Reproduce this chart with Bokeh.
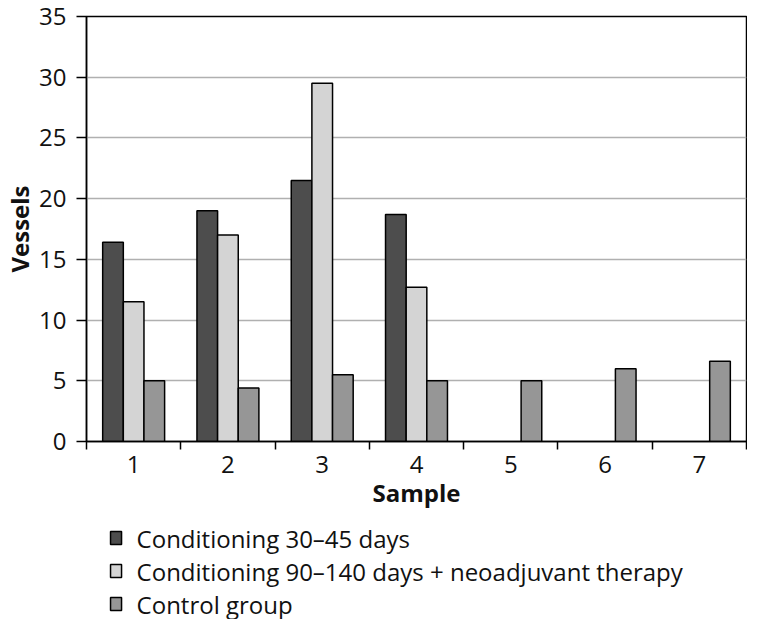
from bokeh.plotting import figure
from bokeh.layouts import column
from bokeh.models import ColumnDataSource, FixedTicker, Range1d
from bokeh.core.properties import value
from bokeh.transform import dodge
from bokeh.embed import file_html
from bokeh.resources import INLINE

# ---- data ----
samples = [1, 2, 3, 4, 5, 6, 7]
sample_labels = ["1", "2", "3", "4", "5", "6", "7"]
conditioning_30_45 = [16.4, 19.0, 21.5, 18.7, None, None, None]
conditioning_90_140 = [11.5, 17.0, 29.5, 12.7, None, None, None]
control_group = [5.0, 4.4, 5.5, 5.0, 5.0, 6.0, 6.6]
series_names = [
    "Conditioning 30\u201345 days",
    "Conditioning 90\u2013140 days + neoadjuvant therapy",
    "Control group",
]
y_ticks = [0, 5, 10, 15, 20, 25, 30, 35]

# ---- styles ----
colors = ["#4d4d4d", "#d4d4d4", "#969696"]
offsets = [-0.219, 0.0, 0.219]
bar_w = 0.219
FONT = "Open Sans"
W = 747
H_CHART = 521
H_LEGEND = 98

p = figure(width=W, height=H_CHART, output_backend="svg", toolbar_location=None,
           x_range=Range1d(0.5, 7.5), y_range=Range1d(0, 35),
           min_border_left=0, min_border_right=1, min_border_top=16,
           min_border_bottom=80)
p.background_fill_color = "white"
p.border_fill_color = "white"
p.outline_line_color = "black"
p.outline_line_width = 1.5

for name, vals, col, off in zip(series_names,
                                [conditioning_30_45, conditioning_90_140, control_group],
                                colors, offsets):
    xs = [s for s, v in zip(samples, vals) if v is not None]
    ys = [v for v in vals if v is not None]
    src = ColumnDataSource(dict(x=xs, top=ys))
    p.vbar(x=dodge("x", off), top="top", bottom=0, width=bar_w, source=src,
           fill_color=col, line_color="black", line_width=1.5)

# grid
p.xgrid.visible = False
p.ygrid.grid_line_color = "#b0b0b0"
p.ygrid.grid_line_width = 1.5
p.ygrid.ticker = FixedTicker(ticks=y_ticks)

# x axis
p.xaxis.ticker = FixedTicker(ticks=samples, minor_ticks=[s - 0.5 for s in samples] + [samples[-1] + 0.5])
p.xaxis.major_label_overrides = {s: l for s, l in zip(samples, sample_labels)}
p.xaxis.major_tick_out = 0
p.xaxis.major_tick_in = 0
p.xaxis.minor_tick_out = 8
p.xaxis.minor_tick_in = 0
p.xaxis.minor_tick_line_color = "black"
p.xaxis.minor_tick_line_width = 1.5
p.xaxis.axis_label = "Sample"
p.xaxis.major_label_standoff = 6
p.xaxis.axis_label_standoff = 0

# y axis
p.yaxis.ticker = FixedTicker(ticks=y_ticks)
p.yaxis.major_tick_out = 10
p.yaxis.major_tick_in = 0
p.yaxis.minor_tick_line_color = None
p.yaxis.axis_label = "Vessels"
p.yaxis.major_label_standoff = 10
p.yaxis.axis_label_standoff = 0

for ax in (p.xaxis[0], p.yaxis[0]):
    ax.axis_line_color = "black"
    ax.axis_line_width = 1.5
    ax.major_tick_line_color = "black"
    ax.major_tick_line_width = 1.5
    ax.major_label_text_font = FONT
    ax.major_label_text_font_size = "24px"
    ax.major_label_text_color = "#111111"
    ax.axis_label_text_font = FONT
    ax.axis_label_text_font_size = "24px"
    ax.axis_label_text_font_style = "bold"
    ax.axis_label_text_color = "#111111"

# ---- legend panel: a key figure below the chart (pixel-like layout units) ----
lf = figure(width=W, height=H_LEGEND, output_backend="svg", toolbar_location=None,
            x_range=Range1d(0, 659), y_range=Range1d(0, H_LEGEND),
            x_axis_type=None, y_axis_type=None,
            min_border_left=0, min_border_right=0, min_border_top=0, min_border_bottom=0)
lf.outline_line_color = None
lf.background_fill_color = "white"
lf.border_fill_color = "white"
lf.xgrid.visible = False
lf.ygrid.visible = False

row_h = 33
sw_x0, sw_w, sw_h, txt_gap = 24, 11, 13, 15
row_y = [H_LEGEND - row_h / 2 - i * row_h for i in range(len(series_names))]
key_src = ColumnDataSource(dict(
    left=[sw_x0] * len(series_names),
    right=[sw_x0 + sw_w] * len(series_names),
    bottom=[y - sw_h / 2 for y in row_y],
    top=[y + sw_h / 2 for y in row_y],
    color=colors,
    tx=[sw_x0 + sw_w + txt_gap] * len(series_names),
    ty=row_y,
    label=series_names,
))
lf.quad(left="left", right="right", bottom="bottom", top="top", source=key_src,
        fill_color="color", line_color="black", line_width=1.5)
lf.text(x="tx", y="ty", text="label", source=key_src,
        text_font=value(FONT), text_font_size="24px", text_color="#111111",
        text_baseline="middle", text_align="left")

layout = column(p, lf, spacing=0)
open("out.html", "w").write(file_html(layout, INLINE))
